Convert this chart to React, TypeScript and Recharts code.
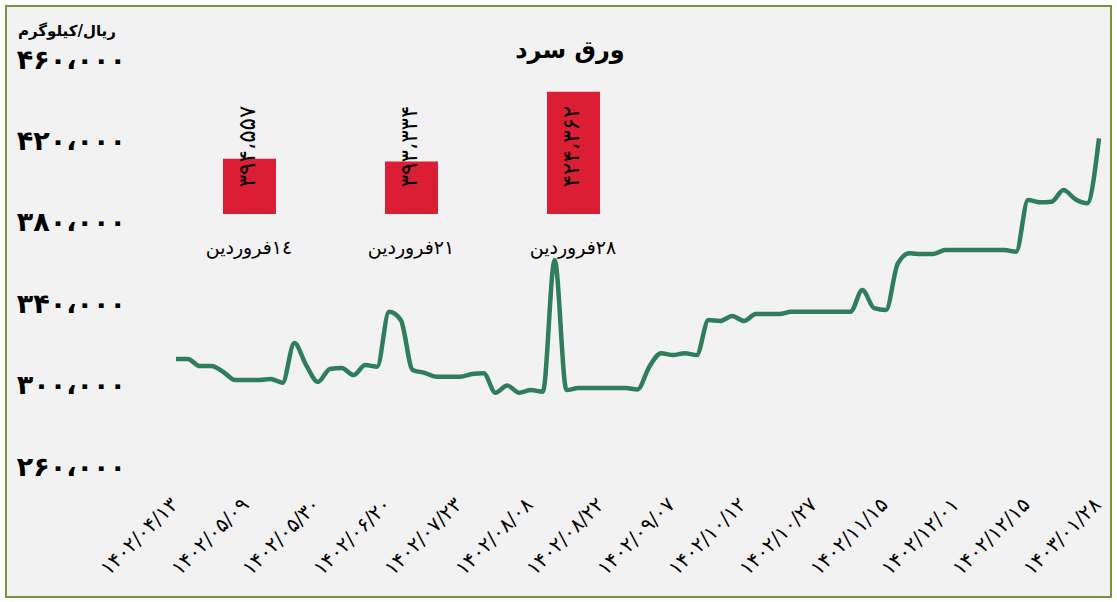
import React from 'react';
import { LineChart, Line, XAxis, YAxis, BarChart, Bar, LabelList } from 'recharts';

// tick labels of the date axis (one every 6 points)
const dateLabels = [
  '1402/04/13', '1402/05/09', '1402/05/30', '1402/06/20', '1402/07/23',
  '1402/08/08', '1402/08/22', '1402/09/07', '1402/10/12', '1402/10/27',
  '1402/11/15', '1402/12/01', '1402/12/15', '1403/01/28',
];
const labelStep = 6;

// cold rolled sheet price, rial/kg
const priceValues = [
  312600, 312600, 309100, 309100, 306200, 302300, 302300, 302300, 302800, 300900,
  320400, 309600, 301300, 307700, 308200, 304700, 309600, 308800, 335800, 331700,
  307200, 305800, 303900, 303900, 303900, 305200, 305600, 296000, 299500, 296000,
  297300, 296500, 361200, 297300, 298300, 298300, 298300, 298300, 298300, 297600,
  308800, 315400, 314500, 315400, 314500, 331700, 331300, 333700, 331300, 334700,
  334700, 334700, 335800, 335800, 335800, 335800, 335800, 335800, 346500, 337600,
  336700, 359600, 364500, 364200, 364200, 366100, 366100, 366100, 366100, 366100,
  366100, 365300, 390700, 389600, 389900, 395600, 391100, 389100, 421000,
];

const yTicks = [260000, 300000, 340000, 380000, 420000, 460000];

// inset: last three weeks
const weekLabels = ['١٤فروردین', '۲۱فروردین', '۲۸فروردین'];
const weekValues = [394557, 393334, 424362];
const weekDomain = [370000, 430000];

const FONT = "'DejaVu Sans', sans-serif";

const faDigits = (s: string) => s.replace(/\d/g, (d) => '۰۱۲۳۴۵۶۷۸۹'[Number(d)]);
const faNumber = (n: number) =>
  faDigits(String(n).replace(/\B(?=(\d{3})+(?!\d))/g, '،'));

const lineData = priceValues.map((v, i) => ({ idx: i, price: v }));
const xTicks = dateLabels.map((_, i) => i * labelStep);
const barData = weekLabels.map((w, i) => ({ week: w, value: weekValues[i] }));

const DateTick = (props: any) => {
  const { x, y, payload } = props;
  const ax = x + 3;
  return (
    <text
      x={ax}
      y={y}
      transform={`rotate(-45, ${ax}, ${y})`}
      textAnchor="end"
      fontSize={20}
      fontFamily={FONT}
      fill="#000"
    >
      {faDigits(dateLabels[Math.round(payload.value / labelStep)] || '')}
    </text>
  );
};

const WeekTick = (props: any) => {
  const { x, y, payload } = props;
  return (
    <text
      x={x}
      y={y}
      dy="0.71em"
      textAnchor="middle"
      direction="rtl"
      fontSize={19}
      fontFamily={FONT}
      fill="#000"
    >
      {payload.value}
    </text>
  );
};

// value label drawn vertically, centred on the 400,000 level of the inset scale
const WeekLabel = (props: any) => {
  const { x, y, width, height, value } = props;
  const base = y + height;
  const k = height / (value - weekDomain[0]);
  const cy = base - (400000 - weekDomain[0]) * k;
  const cx = x + width / 2 - 3;
  return (
    <text
      x={cx}
      y={cy}
      transform={`rotate(-90, ${cx}, ${cy})`}
      textAnchor="middle"
      dominantBaseline="central"
      fontSize={23}
      fontFamily={FONT}
      fill="#000"
    >
      {faNumber(value)}
    </text>
  );
};

export default function App() {
  return (
    <div style={{ position: 'absolute', left: 0, top: 0, width: 1117, height: 602, background: '#fff' }}>
      <div
        style={{
          position: 'absolute', left: 5, top: 5, width: 1103, height: 589,
          border: '2px solid #77933C', background: '#F2F2F2',
        }}
      />
      <div
        style={{
          position: 'absolute', left: 18, top: 22, fontFamily: FONT,
          fontSize: 15, fontWeight: 'bold', color: '#000',
        }}
      >
        ریال/کیلوگرم
      </div>
      <div
        style={{
          position: 'absolute', left: 470, width: 200, top: 36, textAlign: 'center',
          fontFamily: FONT, fontSize: 24, fontWeight: 'bold', color: '#000',
        }}
      >
        ورق سرد
      </div>
      <div style={{ position: 'absolute', left: 0, top: 0 }}>
        <LineChart
          width={1117}
          height={602}
          data={lineData}
          margin={{ top: 59, right: 18, bottom: 0, left: 56 }}
        >
          <XAxis
            dataKey="idx"
            type="number"
            domain={[0, priceValues.length - 1]}
            ticks={xTicks}
            interval={0}
            height={136}
            axisLine={false}
            tickLine={false}
            tickSize={0}
            tickMargin={40}
            tick={<DateTick />}
          />
          <YAxis
            domain={[yTicks[0], yTicks[yTicks.length - 1]]}
            ticks={yTicks}
            width={120}
            axisLine={false}
            tickLine={false}
            tickSize={0}
            tickMargin={50}
            tickFormatter={faNumber}
            tick={{ fontSize: 27, fontWeight: 'bold', fill: '#000', fontFamily: FONT }}
          />
          <Line
            type="monotone"
            dataKey="price"
            stroke="#2E7D5C"
            strokeWidth={4.5}
            dot={false}
            isAnimationActive={false}
          />
        </LineChart>
      </div>
      <div style={{ position: 'absolute', left: 168, top: 79 }}>
        <BarChart width={486} height={185} data={barData} margin={{ top: 0, right: 0, bottom: 0, left: 0 }}>
          <XAxis
            dataKey="week"
            height={50}
            axisLine={false}
            tickLine={false}
            tickSize={0}
            tickMargin={27}
            tick={<WeekTick />}
          />
          <YAxis hide domain={weekDomain} allowDataOverflow />
          <Bar dataKey="value" fill="#DC1E35" barSize={53} isAnimationActive={false}>
            <LabelList dataKey="value" content={<WeekLabel />} />
          </Bar>
        </BarChart>
      </div>
    </div>
  );
}
